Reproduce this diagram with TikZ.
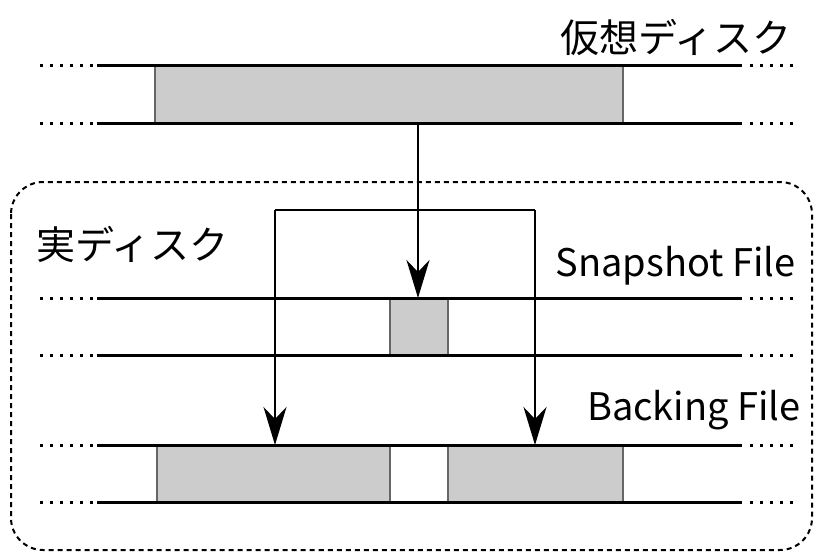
\documentclass[tikz,border=0pt]{standalone}
\usepackage{fontspec}
\setmainfont{Noto Sans CJK JP}
\usetikzlibrary{arrows.meta}
\begin{document}
\begin{tikzpicture}[x=1pt,y=-1pt,
  track/.style={line width=3pt},
  dotline/.style={line width=3pt, dash pattern=on 3pt off 7pt},
  block/.style={fill=black!20, draw=black!60, line width=1.2pt},
  link/.style={line width=2pt},
  arr/.style={line width=2pt, -{Stealth[length=38pt,width=23pt,inset=12pt]}},
  lbl/.style={inner sep=0pt, font=\fontsize{39}{44}\selectfont},
  lblen/.style={inner sep=0pt, font=\fontsize{38}{44}\selectfont}]
\useasboundingbox (0,0) rectangle (817,555);
% dashed outer box
\draw[line width=2pt, dash pattern=on 5pt off 4pt, rounded corners=32pt] (11,182) rectangle (812,550);
% gray blocks
\draw[block] (155,65) rectangle (623,123);
\draw[block] (390,298) rectangle (448,355);
\draw[block] (157,445) rectangle (390,502);
\draw[block] (448,445) rectangle (623,502);
% tracks
\foreach \y in {65,123,298,355,445,502}{
  \draw[track] (97,\y) -- (742,\y);
  \draw[dotline] (40,\y) -- (95,\y);
  \draw[dotline] (750,\y) -- (795,\y);
}
% labels
\node[lbl, anchor=south east] (vd) at (792,56) {仮想ディスク};
\node[lbl, anchor=south west] (rd) at (36,263) {実ディスク};
\node[lblen, anchor=south east] (sf) at (796,285) {Snapshot File};
\node[lblen, anchor=south east] (bf) at (801,430) {Backing File};
% coordinates
\coordinate (vsrc) at (418,123);
\coordinate (vdst) at (418,298);
\coordinate (bl) at (275,210);
\coordinate (br) at (535,210);
\coordinate (bld) at (275,445);
\coordinate (brd) at (535,445);
% arrows
\draw[arr] (vsrc) -- (vdst);
\draw[link] (bl) -- (br);
\draw[arr] (bl) -- (bld);
\draw[arr] (br) -- (brd);
\end{tikzpicture}
\end{document}
